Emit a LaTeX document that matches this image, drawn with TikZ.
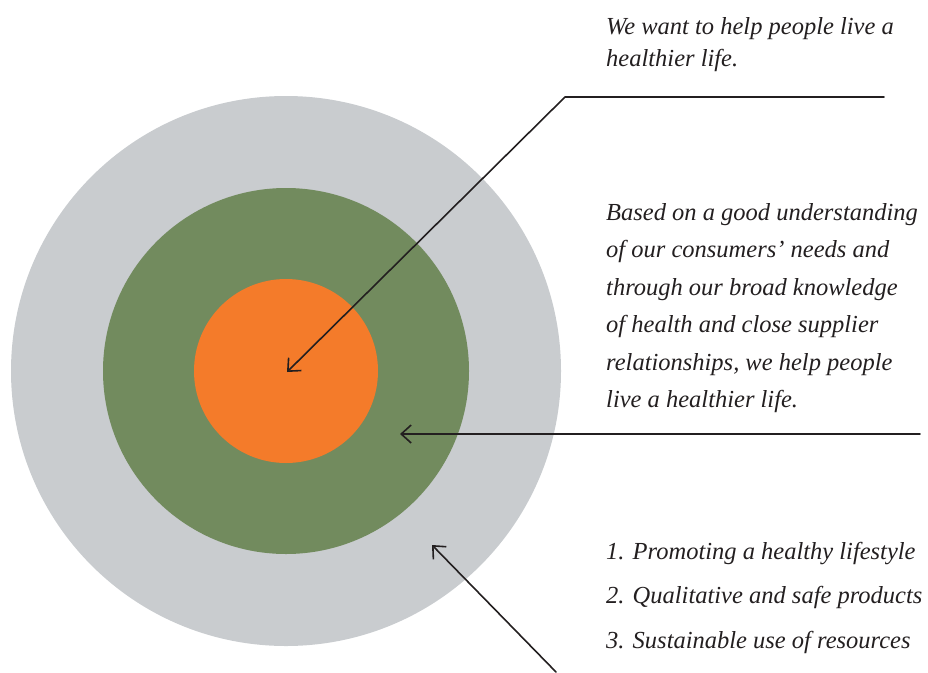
\documentclass[tikz,border=0pt]{standalone}
\usepackage{fontspec}
\setmainfont{Liberation Serif}
\usetikzlibrary{arrows.meta}
\definecolor{ringgrey}{HTML}{C9CCCF}
\definecolor{ringgreen}{HTML}{728B5E}
\definecolor{ringorange}{HTML}{F47B2A}
\definecolor{ink}{HTML}{231F20}
\begin{document}
\begin{tikzpicture}[x=1pt,y=-1pt,
  ring/.style={circle, inner sep=0pt, draw=none},
  pointer/.style={draw=ink, line width=1.6pt, line cap=round, line join=round,
    -{Straight Barb[length=10pt,width=18pt,line width=1.6pt]}},
  label/.style={anchor=north west, align=left, inner sep=0pt, text=ink,
    font=\fontsize{24.5}{37.5}\selectfont\itshape}]
  \useasboundingbox (0,0) rectangle (928,672);
  % concentric rings
  \node[ring, fill=ringgrey,   minimum size=550pt] (outer) at (286,371) {};
  \node[ring, fill=ringgreen,  minimum size=366pt] (middle) at (286,371) {};
  \node[ring, fill=ringorange, minimum size=184pt] (inner) at (286,371) {};
  % arrow tips inside the rings
  \coordinate (tipinner) at (287,372);
  \coordinate (tipmiddle) at (400,434);
  \coordinate (tipouter) at (432,545);
  % text blocks
  \node[label, font=\fontsize{24.5}{32.5}\selectfont\itshape] (purpose) at (606,17)
    {We want to help people live a\\healthier life.};
  \node[label] (approach) at (606,203)
    {Based on a good understanding\\of our consumers' needs and\\through our broad knowledge\\of health and close supplier\\relationships, we help people\\live a healthier life.};
  \node[label, font=\fontsize{24.5}{44.5}\selectfont\itshape] (focus) at (606,542)
    {1. Promoting a healthy lifestyle\\2. Qualitative and safe products\\3. Sustainable use of resources};
  % connector ends
  \coordinate (lineA) at (884,97);
  \coordinate (bendA) at (565,97);
  \coordinate (lineB) at (920,434);
  \coordinate (lineC) at (556,672);
  % pointers
  \draw[pointer] (lineA) -- (bendA) -- (tipinner);
  \draw[pointer] (lineB) -- (tipmiddle);
  \draw[pointer] (lineC) -- (tipouter);
\end{tikzpicture}
\end{document}
